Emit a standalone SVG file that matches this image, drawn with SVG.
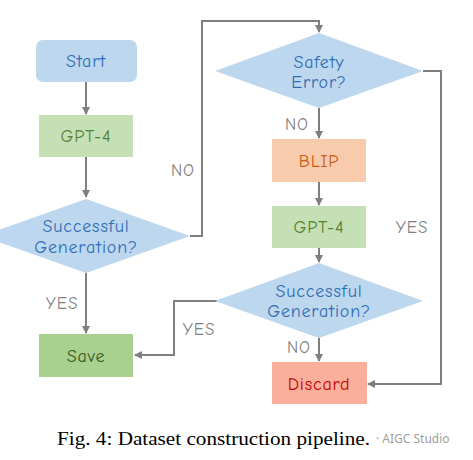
<svg xmlns="http://www.w3.org/2000/svg" width="473" height="460" viewBox="0 0 473 460">
<style>
.n{font-family:"Comic Sans MS","Comic Neue","DejaVu Sans",sans-serif;font-size:18px;letter-spacing:0.8px;text-anchor:middle}
.lbl{font-family:"Comic Sans MS","Comic Neue","DejaVu Sans",sans-serif;font-size:17px;letter-spacing:1px;fill:#7f7f7f;text-anchor:middle}
.c{fill:none;stroke:#7f7f7f;stroke-width:2;marker-end:url(#ah)}
.blue{fill:#bdd7ee}
.bt{fill:#2e6db4}
</style>
<defs>
<marker id="ah" viewBox="0 0 8 8" refX="7" refY="4" markerWidth="4" markerHeight="4" orient="auto" markerUnits="strokeWidth">
<path d="M0,0 L8,4 L0,8 z" fill="#7f7f7f"/>
</marker>
</defs>
<rect width="473" height="460" fill="#ffffff"/>
<g id="connectors">
<path class="c" d="M86,82 V114"/>
<path class="c" d="M86,157 V197"/>
<path class="c" d="M190,236 H202 V21 H319 V32"/>
<path class="c" d="M423,71 H441 V384 H368"/>
<path class="c" d="M319,108 V138"/>
<path class="c" d="M319,182 V205"/>
<path class="c" d="M319,248 V262"/>
<path class="c" d="M217,301 H174 V355 H135"/>
<path class="c" d="M86,273 V333"/>
<path class="c" d="M319,338 V361"/>
<text class="lbl" x="183" y="176">NO</text>
<text class="lbl" x="412" y="233">YES</text>
<text class="lbl" x="297" y="130">NO</text>
<text class="lbl" x="199" y="335">YES</text>
<text class="lbl" x="62" y="309">YES</text>
<text class="lbl" x="299" y="353">NO</text>
</g>
<g id="start">
<rect x="36" y="40" width="101" height="42" rx="7" class="blue"/>
<text class="n bt" x="86" y="67">Start</text>
</g>
<g id="gpt4a">
<rect x="39" y="115" width="94" height="42" fill="#c5e0b4"/>
<text class="n" x="86" y="142" fill="#548235">GPT-4</text>
</g>
<g id="success1">
<polygon points="86,199 190,236 86,273 -18,236" class="blue"/>
<text class="n bt" x="86" y="232">Successful</text>
<text class="n bt" x="86" y="253">Generation?</text>
</g>
<g id="safety">
<polygon points="319,33 423,71 319,108 215,71" class="blue"/>
<text class="n bt" x="319" y="68">Safety</text>
<text class="n bt" x="319" y="88">Error?</text>
</g>
<g id="blip">
<rect x="272" y="139" width="94" height="43" fill="#f8cbad"/>
<text class="n" x="319" y="167" fill="#c55a11">BLIP</text>
</g>
<g id="gpt4b">
<rect x="272" y="206" width="94" height="42" fill="#c5e0b4"/>
<text class="n" x="319" y="233" fill="#548235">GPT-4</text>
</g>
<g id="success2">
<polygon points="319,263 423,301 319,338 215,301" class="blue"/>
<text class="n bt" x="319" y="297">Successful</text>
<text class="n bt" x="319" y="317">Generation?</text>
</g>
<g id="save">
<rect x="39" y="334" width="94" height="43" fill="#a9d18e"/>
<text class="n" x="86" y="362" fill="#385723">Save</text>
</g>
<g id="discard">
<rect x="272" y="362" width="95" height="42" fill="#fbae9a"/>
<text class="n" x="319" y="390" fill="#c00000">Discard</text>
</g>
<text x="57" y="445" font-family="Liberation Serif,serif" font-size="18" fill="#000" textLength="313" lengthAdjust="spacingAndGlyphs">Fig. 4: Dataset construction pipeline.</text>
<text x="376" y="443" font-family="Noto Sans,sans-serif" font-size="12" fill="#a0a0a0">· AIGC Studio</text>
</svg>
